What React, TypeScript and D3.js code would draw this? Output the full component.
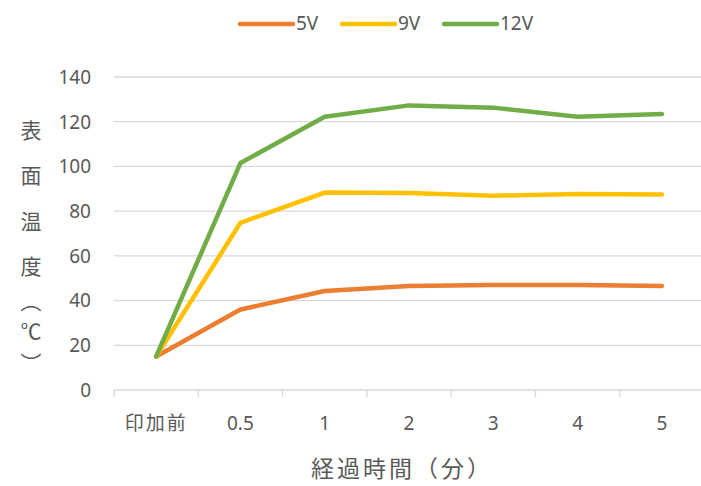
import React, { useRef, useEffect } from 'react';
import * as d3 from 'd3';

const categories = ['印加前', '0.5', '1', '2', '3', '4', '5'];
const v5 = [15, 36, 44.3, 46.5, 47, 47, 46.5];
const v9 = [15, 74.8, 88.3, 88.1, 86.9, 87.7, 87.4];
const v12 = [15, 101.5, 122.2, 127.3, 126.3, 122.2, 123.4];
const seriesNames = ['5V', '9V', '12V'];
const seriesColors = ['#ED7D31', '#FFC000', '#70AD47'];
const yTicks = [0, 20, 40, 60, 80, 100, 120, 140];
const yTitleChars = ['表', '面', '温', '度'];
const yUnitChars = ['︵', '℃', '︶'];

const W = 701;
const H = 486;
const FONT = '"Noto Sans", "Noto Sans CJK JP", sans-serif';
const JP = '"Noto Sans CJK JP", sans-serif';
const TXT = '#595959';

function App() {
  const svgRef = useRef(null);

  useEffect(() => {
    const svg = d3.select(svgRef.current);
    svg.selectAll('*').remove();

    const left = 114;
    const right = 704;
    const top = 77;
    const bottom = 390;

    const x = d3.scaleBand().domain(categories).range([left, right]);
    const y = d3.scaleLinear().domain([0, 140]).range([bottom, top]);

    // グリッド
    svg
      .append('g')
      .selectAll('line')
      .data(yTicks.filter((t) => t > 0))
      .join('line')
      .attr('x1', left)
      .attr('x2', right)
      .attr('y1', (d) => y(d))
      .attr('y2', (d) => y(d))
      .attr('stroke', '#d9d9d9')
      .attr('stroke-width', 1.3);

    // x軸
    svg
      .append('line')
      .attr('x1', left)
      .attr('x2', right)
      .attr('y1', bottom)
      .attr('y2', bottom)
      .attr('stroke', '#d9d9d9')
      .attr('stroke-width', 1.3);

    const bounds = categories.map((c) => x(c)).concat([right]);
    svg
      .append('g')
      .selectAll('line')
      .data(bounds)
      .join('line')
      .attr('x1', (d) => d)
      .attr('x2', (d) => d)
      .attr('y1', bottom)
      .attr('y2', bottom + 7)
      .attr('stroke', '#d9d9d9')
      .attr('stroke-width', 1.3);

    // y目盛ラベル
    svg
      .append('g')
      .selectAll('text')
      .data(yTicks)
      .join('text')
      .attr('x', 91)
      .attr('y', (d) => y(d))
      .attr('dy', '0.36em')
      .attr('text-anchor', 'end')
      .attr('fill', TXT)
      .attr('font-family', FONT)
      .attr('font-size', '19px')
      .text((d) => d);

    // x目盛ラベル
    svg
      .append('g')
      .selectAll('text')
      .data(categories)
      .join('text')
      .attr('x', (d) => x(d) + x.bandwidth() / 2)
      .attr('y', 423)
      .attr('dy', '0.36em')
      .attr('text-anchor', 'middle')
      .attr('fill', TXT)
      .attr('font-family', (d) => (d === '印加前' ? JP : FONT))
      .attr('font-size', '19px')
      .attr('letter-spacing', (d) => (d === '印加前' ? '2px' : '0px'))
      .text((d) => d);

    // 軸タイトル
    svg
      .append('text')
      .attr('x', 402)
      .attr('y', 469)
      .attr('dy', '0.36em')
      .attr('text-anchor', 'middle')
      .attr('fill', TXT)
      .attr('font-family', JP)
      .attr('font-size', '23px')
      .attr('letter-spacing', '3px')
      .text('経過時間（分）');

    const yt = svg
      .append('g')
      .attr('fill', TXT)
      .attr('font-family', JP)
      .attr('font-size', '21px')
      .attr('text-anchor', 'middle');
    yTitleChars.forEach((c, i) => {
      yt.append('text')
        .attr('x', 31)
        .attr('y', 130 + i * 45.5)
        .attr('dy', '0.36em')
        .text(c);
    });
    // 縦書きの括弧
    const unitY = [301, 331, 363];
    yUnitChars.forEach((c, i) => {
      yt.append('text')
        .attr('x', 31)
        .attr('y', unitY[i])
        .attr('dy', '0.36em')
        .text(c);
    });

    // 折れ線
    const line = d3
      .line()
      .x((d, i) => x(categories[i]) + x.bandwidth() / 2)
      .y((d) => y(d));

    [v5, v9, v12].forEach((vals, i) => {
      svg
        .append('path')
        .datum(vals)
        .attr('fill', 'none')
        .attr('stroke', seriesColors[i])
        .attr('stroke-width', 4.5)
        .attr('stroke-linejoin', 'round')
        .attr('stroke-linecap', 'round')
        .attr('d', line);
    });

    // 凡例
    const legendX = [240, 342, 444];
    seriesNames.forEach((name, i) => {
      const g = svg.append('g');
      g.append('line')
        .attr('x1', legendX[i])
        .attr('x2', legendX[i] + 53)
        .attr('y1', 24)
        .attr('y2', 24)
        .attr('stroke', seriesColors[i])
        .attr('stroke-width', 4.5)
        .attr('stroke-linecap', 'round');
      g.append('text')
        .attr('x', legendX[i] + 56)
        .attr('y', 23)
        .attr('dy', '0.36em')
        .attr('fill', TXT)
        .attr('font-family', FONT)
        .attr('font-size', '19px')
        .text(name);
    });
  }, []);

  return (
    <svg
      ref={svgRef}
      width={W}
      height={H}
      style={{ position: 'absolute', left: 0, top: 0, background: '#fff' }}
      xmlns="http://www.w3.org/2000/svg"
    />
  );
}

export default App;
